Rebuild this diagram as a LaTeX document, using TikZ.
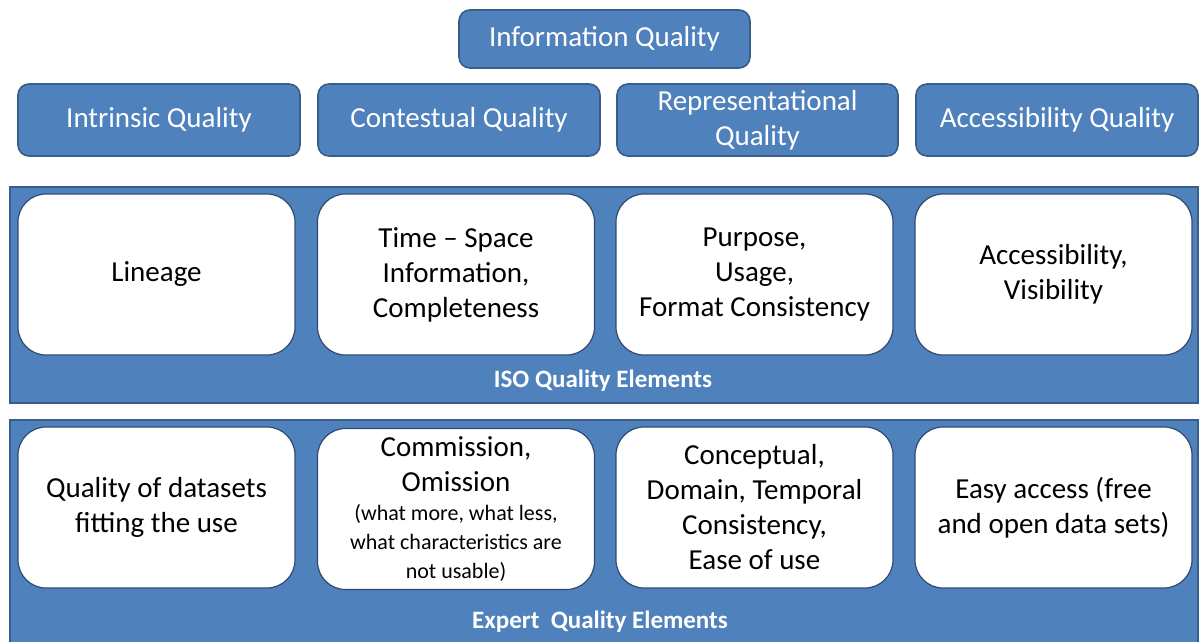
\documentclass[tikz,border=0pt]{standalone}
\usepackage{fontspec}
\setmainfont{Carlito}
\definecolor{qblue}{HTML}{4F81BD}
\definecolor{qedge}{HTML}{385D8A}
\definecolor{wedge}{HTML}{2F4A6E}
\newcommand{\smtxt}{\fontsize{22}{28.5}\selectfont}
\begin{document}
\begin{tikzpicture}[x=1pt,y=-1pt,
  hdr/.style={draw=qedge,line width=1.6pt,fill=qblue,rounded corners=11pt,text=white,
    align=center,inner sep=0pt,font=\fontsize{29}{35}\selectfont},
  band/.style={draw=qedge,line width=1.6pt,fill=qblue},
  wbox/.style={draw=wedge,line width=1.2pt,fill=white,rounded corners=28pt,text=black,
    align=center,inner sep=0pt,minimum width=277pt,minimum height=161pt,
    font=\fontsize{29}{35}\selectfont},
  blab/.style={text=white,font=\fontsize{25}{28}\selectfont\bfseries,inner sep=0pt}
]
\useasboundingbox (0,0) rectangle (1202,642);
\clip (0,0) rectangle (1202,642);
% top
\node[hdr,minimum width=291pt,minimum height=58pt] (iq) at (604.5,39) {Information Quality};
% categories
\node[hdr,minimum width=282pt,minimum height=72pt] (c1) at (159,120) {Intrinsic Quality};
\node[hdr,minimum width=282pt,minimum height=72pt] (c2) at (459,120) {Contestual Quality};
\node[hdr,minimum width=281pt,minimum height=72pt] (c3) at (757.5,120) {Representational\\Quality};
\node[hdr,minimum width=282pt,minimum height=72pt] (c4) at (1057,120) {Accessibility Quality};
% ISO band
\node[band,minimum width=1188pt,minimum height=216pt,inner sep=0pt] (iso) at (604,295) {};
\node[wbox] (i1) at (156.5,274.5) {Lineage};
\node[wbox] (i2) at (456,274.5) {Time -- Space\\Information,\\Completeness};
\node[wbox] (i3) at (754.5,274.5) {Purpose,\\Usage,\\Format Consistency};
\node[wbox] (i4) at (1053.5,274.5) {Accessibility,\\Visibility};
\node[blab] (isol) at (603,381) {ISO Quality Elements};
% Expert band
\node[band,minimum width=1188pt,minimum height=240pt,inner sep=0pt] (exp) at (604,540) {};
\node[wbox] (e1) at (156.5,507.5) {Quality of datasets\\fitting the use};
\node[wbox] (e2) at (456,509) {Commission,\\Omission\\[-6pt]{\smtxt (what more, what less,}\\[-6pt]{\smtxt what characteristics are}\\[-6pt]{\smtxt not usable)}};
\node[wbox] (e3) at (754.5,507.5) {Conceptual,\\Domain, Temporal\\Consistency,\\Ease of use};
\node[wbox] (e4) at (1053.5,507.5) {Easy access (free\\and open data sets)};
\node[blab] (expl) at (600,622) {Expert\ \ Quality Elements};
\end{tikzpicture}
\end{document}
